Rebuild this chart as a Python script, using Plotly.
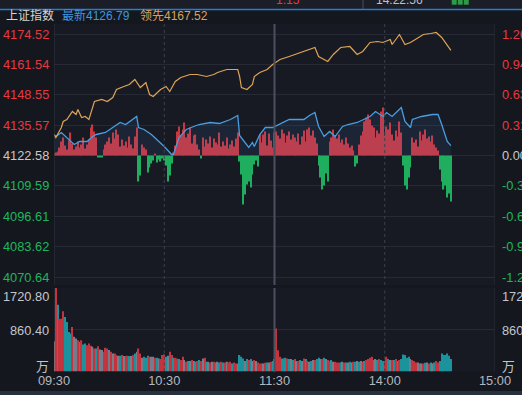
import plotly.graph_objects as go

# ---------------- data ----------------
PREV_CLOSE = 4122.58
LATEST = 4126.79
LEADING = 4167.52
PRICE_TICKS = [4174.52, 4161.54, 4148.55, 4135.57, 4122.58, 4109.59, 4096.61, 4083.62, 4070.64]
PCT_LABELS = ["1.26%", "0.94%", "0.63%", "0.31%", "0.00%", "-0.31%", "-0.63%", "-0.94%", "-1.26%"]
VOL_TICKS = [1720.80, 860.40, 0]
VOL_LABELS = ["1720.80", "860.40", "万"]
TIME_TICKS = [0, 60, 120, 180, 240]
TIME_LABELS = ["09:30", "10:30", "11:30", "14:00", "15:00"]

# price line (minute index since 09:30, trading minutes)
PRICE_MIN = [0, 1, 4, 7, 11, 14, 18, 21, 23, 28, 33, 36, 39, 45, 46, 49, 53, 56, 60, 64,
             65, 68, 72, 76, 79, 85, 90, 96, 100, 101, 106, 108, 109, 112, 115, 119, 125, 128, 136, 139,
             142, 144, 147, 150, 153, 157, 160, 165, 172, 175, 179, 181, 184, 187, 189, 191, 194, 195, 200, 206,
             209, 211, 214, 216]
PRICE = [4131.56, 4130.70, 4132.41, 4130.28, 4127.28, 4128.57, 4128.57, 4130.70, 4131.56, 4132.41,
         4134.98, 4136.69, 4135.83, 4139.25, 4134.55, 4133.70, 4131.56, 4129.42, 4126.43, 4123.01,
         4123.01, 4130.28, 4133.70, 4134.98, 4135.83, 4136.69, 4136.26, 4137.97, 4139.68, 4131.13,
         4126.00, 4128.14, 4126.43, 4131.56, 4134.55, 4134.55, 4136.69, 4137.97, 4137.97, 4139.68,
         4140.96, 4134.98, 4130.70, 4132.84, 4130.70, 4134.98, 4135.83, 4136.69, 4139.25, 4141.39,
         4139.25, 4140.96, 4139.25, 4141.39, 4143.10, 4137.12, 4134.55, 4137.97, 4139.25, 4140.11,
         4140.11, 4135.83, 4128.57, 4126.79]

# leading index line
LEAD_MIN = [0, 1, 4, 5, 7, 10, 12, 13, 15, 17, 19, 21, 22, 26, 29, 32, 34, 38, 41, 44,
            45, 47, 50, 52, 54, 58, 61, 63, 66, 69, 74, 78, 83, 87, 89, 94, 100, 101, 102, 105,
            108, 109, 112, 116, 119, 123, 128, 134, 139, 142, 144, 149, 152, 156, 161, 165, 168, 172, 176, 179,
            183, 184, 188, 191, 194, 198, 201, 205, 208, 211, 214, 216]
LEAD = [4131.56, 4130.28, 4134.55, 4137.12, 4137.97, 4141.39, 4140.11, 4142.25, 4138.83, 4139.25,
        4137.97, 4143.10, 4145.67, 4146.52, 4145.67, 4147.38, 4150.80, 4152.08, 4152.93, 4155.07,
        4153.79, 4151.65, 4153.79, 4148.66, 4147.80, 4150.80, 4152.08, 4149.94, 4154.22, 4155.93,
        4157.21, 4157.21, 4156.35, 4157.21, 4158.06, 4159.35, 4159.35, 4156.35, 4151.65, 4150.80,
        4152.93, 4156.35, 4158.06, 4159.35, 4161.48, 4163.62, 4164.90, 4166.61, 4167.90, 4168.75,
        4164.90, 4162.77, 4165.76, 4168.75, 4169.18, 4165.76, 4167.04, 4170.89, 4171.32, 4170.89,
        4172.17, 4170.03, 4174.31, 4170.03, 4170.89, 4173.03, 4174.31, 4174.74, 4175.16, 4173.03,
        4170.03, 4167.52]

# buy/sell force bars, one per minute (index points x FORCE_SCALE)
FORCE = [2, 3, 4, 8, 14, 18, 10, 6, 15, 23,
         12, 6, 9, 14, 8, 11, 18, 7, 11, 16,
         28, 31, 24, 18, -2, -2, -2, 6, 11, 14,
         18, 12, 23, 17, 26, 21, 9, 16, 10, 14,
         8, 19, 11, 7, 19, 28, -26, -20, 11, 8,
         6, -17, -12, -8, -5, 2, -7, -4, -6, -3,
         -5, -10, -26, -20, -8, 3, 10, 24, 29, 20,
         26, 33, 18, 22, 28, 12, 20, 21, 11, 6,
         -3, 18, 9, 16, 12, 19, 8, 17, 13, 11,
         23, 9, 14, 10, 18, 7, 11, 15, 9, 17,
         23, -6, -19, -49, -39, -29, -26, -32, -19, -9,
         -5, -11, 21, 13, 21, 24, 10, 22, 15, 8,
         23, 24, 20, 17, 26, 22, 13, 20, 24, 16,
         21, 18, 14, 22, 11, 19, 25, 14, 26, 28,
         20, 25, 18, 12, -10, -22, -34, -30, -18, -26,
         14, 18, 26, 20, 17, 21, 13, 16, 11, 18,
         12, 8, 10, 5, -11, -8, 11, 20, 24, 34,
         38, 41, 36, 30, 28, 18, 25, 22, 44, 48,
         20, 29, 26, 33, 21, 15, 25, 19, 34, 23,
         -10, -30, -34, -22, -12, 18, 13, 16, 9, 24,
         15, 21, 26, 17, 19, 14, 20, 11, 8, 5,
         -14, -26, -34, -30, -42, -38, -46]
FORCE_SCALE = 0.4275

# volume per minute (万) and its colour class: p=open, r=up, t=down, g=flat
VOL = [625, 1720.8, 1376, 1089, 1089, 1240, 1124, 1021, 816, 782,
       919, 714, 680, 645, 611, 645, 557, 577, 543, 577,
       529, 509, 475, 475, 522, 454, 441, 406, 488, 475,
       441, 406, 372, 372, 338, 324, 324, 338, 318, 318,
       324, 318, 318, 338, 372, 406, 475, 372, 283, 304,
       283, 324, 304, 304, 304, 283, 283, 270, 256, 338,
       352, 304, 324, 406, 338, 283, 283, 270, 256, 236,
       304, 236, 201, 215, 215, 236, 215, 201, 215, 236,
       215, 270, 283, 201, 201, 188, 201, 201, 188, 201,
       188, 201, 188, 188, 201, 188, 201, 167, 188, 167,
       167, 338, 304, 270, 215, 256, 236, 256, 215, 236,
       215, 188, 167, 167, 167, 181, 188, 188, 201, 215,
       256, 885, 440, 304, 270, 270, 283, 270, 256, 256,
       236, 256, 215, 215, 236, 215, 270, 256, 215, 201,
       215, 236, 236, 256, 283, 256, 256, 283, 256, 236,
       215, 236, 201, 201, 188, 188, 188, 201, 188, 188,
       188, 201, 188, 201, 201, 215, 201, 215, 201, 215,
       236, 256, 283, 304, 236, 256, 236, 256, 236, 215,
       215, 304, 256, 236, 236, 236, 256, 215, 236, 256,
       352, 338, 283, 304, 256, 236, 215, 188, 188, 167,
       167, 167, 181, 188, 167, 188, 167, 188, 215, 188,
       215, 372, 338, 338, 372, 324, 256]
VOL_DIR = list("prtrrrtttt" + "rggrtrttrr" + "rgrtrggrrr" + "grgrrgtrgr"
               + "rtgrtgrrgt" + "ttrggrtgrr" + "rtgrrtrrtr" + "rgrtgrgtrt"
               + "rgrtgrgrtg" + "trtrgrrtrr" + "gtttgtrtgr" + "grrrgrtgrt"
               + "grrrtttrtg" + "trgrtgrtrg" + "tgrttgrtgr" + "rtgrrrtgrt"
               + "gtgrtgtgrt" + "rrrrtgtrtt" + "rrtgrtrtrt" + "ttttgrrrgt"
               + "grtgrtgtrr" + "ttttttt")

# ---------------- styling ----------------
W, H = 522, 395
BG = "#15171f"
PLOT_BG = "#171a23"
GRID = "#262a35"
RED = "#e8373d"
GREEN = "#1cb75b"
FONT = "Liberation Sans, Noto Sans CJK SC, sans-serif"
LBL = 12.8
VCOL = {"p": "#e59a9c", "r": "#c3343f", "t": "#1a939d", "g": "#777c8a"}

top_px, bot_px = 24, 285
s = (PRICE_TICKS[0] - PRICE_TICKS[-1]) / (277 - 34)
y1_range = [PRICE_TICKS[-1] - (bot_px - 277) * s, PRICE_TICKS[0] + (34 - top_px) * s]
vtop_px, vbot_px = 288, 371.5


def py(p):
    return 1 - p / H


fig = go.Figure()
minutes = list(range(len(FORCE)))
fig.add_trace(go.Bar(
    x=minutes, y=[f * FORCE_SCALE for f in FORCE], base=PREV_CLOSE,
    marker=dict(color=["#c9373f" if f >= 0 else "#1fae5d" for f in FORCE], line_width=0),
    width=0.65, xaxis="x", yaxis="y", hoverinfo="skip"))
fig.add_trace(go.Scatter(x=[0, PRICE_MIN[-1]], y=[PREV_CLOSE, PREV_CLOSE], mode="lines",
                         line=dict(width=0, color="rgba(0,0,0,0)"), xaxis="x", yaxis="y",
                         hoverinfo="skip"))
fig.add_trace(go.Scatter(x=PRICE_MIN, y=PRICE, mode="lines", fill="tonexty",
                         fillcolor="rgba(70,140,220,0.10)",
                         line=dict(color="#4a9de0", width=1.3), xaxis="x", yaxis="y"))
fig.add_trace(go.Scatter(x=LEAD_MIN, y=LEAD, mode="lines",
                         line=dict(color="#dda455", width=1.2), xaxis="x", yaxis="y"))
fig.add_trace(go.Bar(
    x=list(range(len(VOL))), y=VOL,
    marker=dict(color=[VCOL[c] for c in VOL_DIR], line_width=0),
    width=0.65, xaxis="x2", yaxis="y2", hoverinfo="skip"))

xdom = [54 / W, 495 / W]
fig.update_layout(
    width=W, height=H, margin=dict(l=0, r=0, t=0, b=0, autoexpand=False),
    paper_bgcolor=BG, plot_bgcolor=PLOT_BG, showlegend=False, barmode="overlay",
    font=dict(family=FONT, size=12, color="#b8bcc4"),
    xaxis=dict(domain=xdom, range=[0, 240], showgrid=False, zeroline=False, automargin=False,
               showticklabels=False, anchor="y", fixedrange=True),
    yaxis=dict(domain=[py(bot_px), py(top_px)], range=y1_range, tickvals=PRICE_TICKS,
               automargin=False, showticklabels=False, gridcolor=GRID, gridwidth=1,
               zeroline=False, anchor="x"),
    xaxis2=dict(domain=xdom, range=[0, 240], matches="x", anchor="y2", showgrid=False,
                automargin=False, zeroline=False, tickvals=TIME_TICKS, ticktext=TIME_LABELS,
                ticks="", ticklen=2, tickfont=dict(size=LBL, color="#b3b7bf", family=FONT)),
    yaxis2=dict(domain=[py(vbot_px), py(vtop_px)], range=[0, VOL_TICKS[0]], tickvals=VOL_TICKS,
                automargin=False, showticklabels=False, gridcolor=GRID, zeroline=False,
                anchor="x2"),
)

shapes = []
for yr in ["y domain", "y2 domain"]:
    shapes.append(dict(type="line", xref="x", yref=yr, x0=0, x1=0, y0=0, y1=1,
                       line=dict(color="#2f3441", width=1)))
    shapes.append(dict(type="line", xref="x", yref=yr, x0=240, x1=240, y0=0, y1=1,
                       line=dict(color="#2a2e3a", width=1)))
    for t in (60, 180):
        shapes.append(dict(type="line", xref="x", yref=yr, x0=t, x1=t, y0=0, y1=1,
                           line=dict(color="#3c414e", width=1, dash="dot")))
    shapes.append(dict(type="line", xref="x", yref=yr, x0=120, x1=120, y0=0, y1=1,
                       line=dict(color="#4a505e", width=2)))
shapes.append(dict(type="rect", xref="paper", yref="paper", x0=0, x1=1, y0=py(9), y1=1,
                   fillcolor="#1b1e27", line_width=0, layer="below"))
shapes.append(dict(type="line", xref="paper", yref="paper", x0=0, x1=1, y0=py(9.5), y1=py(9.5),
                   line=dict(color="#2b7bd0", width=1.5)))
shapes.append(dict(type="line", xref="paper", yref="paper", x0=363 / W, x1=363 / W, y0=py(9), y1=1,
                   line=dict(color="#4a4f5c", width=1)))
shapes.append(dict(type="rect", xref="paper", yref="paper", x0=0, x1=1, y0=0, y1=py(391),
                   fillcolor="#27303e", line_width=0))
fig.update_layout(shapes=shapes)

ann = []
for v, pl in zip(PRICE_TICKS, PCT_LABELS):
    col = RED if v > PREV_CLOSE else (GREEN if v < PREV_CLOSE else "#c8c8c8")
    ann.append(dict(x=51 / W, xref="paper", y=v, yref="y", text=f"{v:.2f}", showarrow=False,
                    xanchor="right", yanchor="middle", font=dict(size=LBL, color=col, family=FONT)))
    ann.append(dict(x=500 / W, xref="paper", y=v, yref="y", text=pl, showarrow=False,
                    xanchor="left", yanchor="middle", font=dict(size=LBL, color=col, family=FONT)))
vol_label_px = [296, 330, 366]
for lab, p in zip(VOL_LABELS, vol_label_px):
    ann.append(dict(x=51 / W, xref="paper", y=py(p), yref="paper", text=lab, showarrow=False,
                    xanchor="right", yanchor="middle", font=dict(size=LBL, color="#c3c6cd", family=FONT)))
    ann.append(dict(x=500 / W, xref="paper", y=py(p), yref="paper", text=lab, showarrow=False,
                    xanchor="left", yanchor="middle", font=dict(size=LBL, color="#c3c6cd", family=FONT)))
ann.append(dict(x=4 / W, xref="paper", y=py(16), yref="paper", text="上证指数", showarrow=False,
                xanchor="left", yanchor="middle", font=dict(size=12, color="#d4d4d4", family=FONT)))
ann.append(dict(x=60 / W, xref="paper", y=py(16), yref="paper", text=f"最新{LATEST:.2f}",
                showarrow=False, xanchor="left", yanchor="middle",
                font=dict(size=12, color="#3d98df", family=FONT)))
ann.append(dict(x=138 / W, xref="paper", y=py(16), yref="paper", text=f"领先{LEADING:.2f}",
                showarrow=False, xanchor="left", yanchor="middle",
                font=dict(size=12, color="#d9a35c", family=FONT)))
ann.append(dict(x=274 / W, xref="paper", y=py(0), yref="paper", text="1.15", showarrow=False,
                xanchor="left", yanchor="middle", font=dict(size=12, color=RED, family=FONT)))
ann.append(dict(x=374 / W, xref="paper", y=py(0), yref="paper", text="14:22:56", showarrow=False,
                xanchor="left", yanchor="middle", font=dict(size=12, color="#c0c0c0", family=FONT)))
ann.append(dict(x=449 / W, xref="paper", y=py(1), yref="paper", text="■■■", showarrow=False,
                xanchor="left", yanchor="middle", font=dict(size=10, color="#2e9b4a", family=FONT)))
fig.update_layout(annotations=ann)

fig.write_html("out.html", config={"displayModeBar": False},
               post_script="document.body.style.margin='0';")
